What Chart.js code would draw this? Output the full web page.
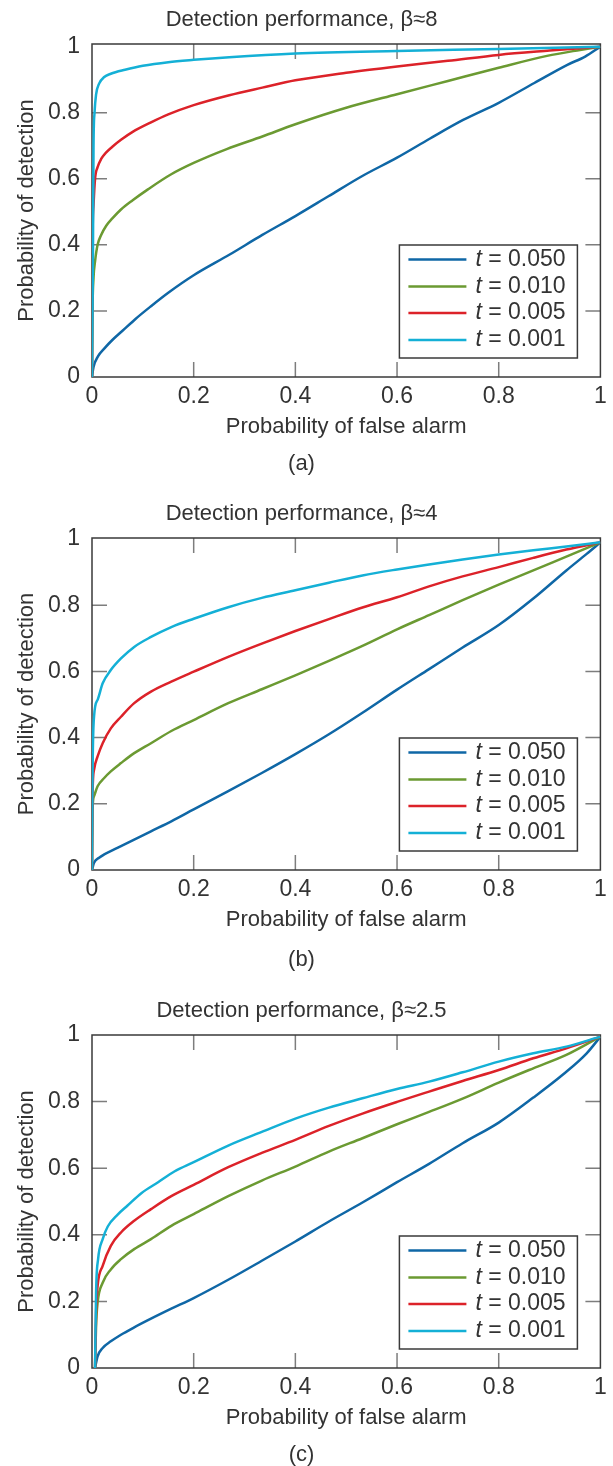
<!DOCTYPE html>
<html>
<head>
<meta charset="utf-8">
<script src="https://cdn.jsdelivr.net/npm/chart.js@4.4.1/dist/chart.umd.min.js"></script>
<style>
  html, body { margin: 0; padding: 0; background: #fff; width: 613px; height: 1466px; overflow: hidden; }
  canvas { position: absolute; left: 0; display: block; }
</style>
</head>
<body>
<canvas id="chartA" width="613" height="490" style="top:0px"></canvas>
<canvas id="chartB" width="613" height="490" style="top:490px"></canvas>
<canvas id="chartC" width="613" height="486" style="top:980px"></canvas>
<script>
// ---------- data ----------
const xTickValues = [0, 0.2, 0.4, 0.6, 0.8, 1];
const yTickValues = [0, 0.2, 0.4, 0.6, 0.8, 1];
const thresholds = ['0.050', '0.010', '0.005', '0.001'];
const chartTitles = ['Detection performance, \u03B2\u22488', 'Detection performance, \u03B2\u22484', 'Detection performance, \u03B2\u22482.5'];
const captions = ['(a)', '(b)', '(c)'];
const xAxisTitle = 'Probability of false alarm';
const yAxisTitle = 'Probability of detection';

// Chart (a), beta ~ 8
const a050_pfa = [0, 0.003, 0.012, 0.024, 0.04, 0.06, 0.085, 0.115, 0.15, 0.2, 0.27, 0.335, 0.4, 0.465, 0.53, 0.6, 0.665, 0.73, 0.8, 0.87, 0.935, 0.97, 1];
const a050_pd  = [0, 0.03, 0.063, 0.086, 0.112, 0.14, 0.175, 0.213, 0.255, 0.308, 0.37, 0.43, 0.487, 0.547, 0.607, 0.664, 0.722, 0.778, 0.83, 0.89, 0.945, 0.97, 1];
const a010_pfa = [0, 0.001, 0.003, 0.006, 0.011, 0.018, 0.028, 0.04, 0.057, 0.08, 0.11, 0.155, 0.2, 0.265, 0.335, 0.4, 0.5, 0.6, 0.7, 0.8, 0.895, 0.96, 1];
const a010_pd  = [0, 0.2, 0.3, 0.35, 0.4, 0.43, 0.458, 0.48, 0.507, 0.535, 0.568, 0.613, 0.648, 0.69, 0.728, 0.765, 0.815, 0.856, 0.896, 0.936, 0.972, 0.99, 1];
const a005_pfa = [0, 0.001, 0.003, 0.006, 0.011, 0.018, 0.028, 0.04, 0.057, 0.08, 0.115, 0.15, 0.2, 0.27, 0.335, 0.4, 0.5, 0.6, 0.7, 0.8, 0.9, 1];
const a005_pd  = [0, 0.4, 0.52, 0.6, 0.635, 0.66, 0.68, 0.697, 0.718, 0.742, 0.77, 0.795, 0.823, 0.853, 0.876, 0.898, 0.921, 0.94, 0.957, 0.975, 0.988, 1];
const a001_pfa = [0, 0.002, 0.003, 0.005, 0.008, 0.014, 0.024, 0.037, 0.065, 0.1, 0.15, 0.2, 0.27, 0.4, 0.6, 0.8, 1];
const a001_pd  = [0, 0.4, 0.7, 0.8, 0.855, 0.888, 0.908, 0.918, 0.93, 0.942, 0.953, 0.96, 0.968, 0.979, 0.987, 0.993, 1];

// Chart (b), beta ~ 4
const b050_pfa = [0, 0.004, 0.014, 0.024, 0.05, 0.083, 0.116, 0.156, 0.2, 0.268, 0.334, 0.4, 0.466, 0.532, 0.6, 0.663, 0.729, 0.8, 0.868, 0.933, 0.973, 1];
const b050_pd  = [0, 0.022, 0.037, 0.047, 0.067, 0.092, 0.117, 0.147, 0.183, 0.238, 0.293, 0.35, 0.41, 0.475, 0.545, 0.607, 0.672, 0.74, 0.82, 0.905, 0.955, 0.99];
const b010_pfa = [0, 0.001, 0.004, 0.011, 0.024, 0.037, 0.057, 0.083, 0.116, 0.156, 0.2, 0.268, 0.334, 0.4, 0.466, 0.532, 0.6, 0.663, 0.729, 0.8, 0.868, 0.933, 1];
const b010_pd  = [0, 0.18, 0.223, 0.253, 0.278, 0.298, 0.323, 0.353, 0.383, 0.42, 0.453, 0.504, 0.546, 0.588, 0.632, 0.677, 0.727, 0.77, 0.815, 0.862, 0.905, 0.947, 0.99];
const b005_pfa = [0, 0.001, 0.004, 0.011, 0.021, 0.037, 0.057, 0.083, 0.116, 0.156, 0.2, 0.268, 0.334, 0.4, 0.466, 0.532, 0.6, 0.663, 0.729, 0.8, 0.868, 0.933, 1];
const b005_pd  = [0, 0.223, 0.303, 0.343, 0.383, 0.428, 0.463, 0.504, 0.539, 0.569, 0.599, 0.644, 0.684, 0.722, 0.758, 0.793, 0.824, 0.857, 0.887, 0.915, 0.943, 0.968, 0.99];
const b001_pfa = [0, 0.001, 0.004, 0.011, 0.021, 0.037, 0.057, 0.083, 0.116, 0.156, 0.2, 0.268, 0.334, 0.4, 0.466, 0.532, 0.6, 0.663, 0.729, 0.8, 0.868, 0.933, 1];
const b001_pd  = [0, 0.273, 0.463, 0.514, 0.564, 0.604, 0.639, 0.674, 0.704, 0.734, 0.759, 0.794, 0.822, 0.845, 0.868, 0.89, 0.908, 0.923, 0.938, 0.953, 0.966, 0.977, 0.99];

// Chart (c), beta ~ 2.5
const c050_pfa = [0.006, 0.011, 0.021, 0.037, 0.057, 0.083, 0.116, 0.156, 0.2, 0.268, 0.334, 0.4, 0.466, 0.532, 0.6, 0.663, 0.729, 0.8, 0.868, 0.927, 0.973, 1];
const c050_pd  = [0, 0.035, 0.06, 0.08, 0.1, 0.122, 0.148, 0.178, 0.21, 0.265, 0.322, 0.38, 0.44, 0.497, 0.558, 0.613, 0.675, 0.737, 0.812, 0.882, 0.945, 0.995];
const c010_pfa = [0.006, 0.008, 0.011, 0.021, 0.037, 0.057, 0.083, 0.116, 0.156, 0.2, 0.268, 0.334, 0.4, 0.466, 0.532, 0.6, 0.663, 0.729, 0.8, 0.868, 0.933, 1];
const c010_pd  = [0, 0.126, 0.196, 0.256, 0.296, 0.327, 0.357, 0.387, 0.427, 0.462, 0.516, 0.563, 0.605, 0.65, 0.69, 0.732, 0.769, 0.809, 0.857, 0.9, 0.94, 0.995];
const c005_pfa = [0.006, 0.008, 0.011, 0.021, 0.037, 0.057, 0.083, 0.116, 0.156, 0.2, 0.268, 0.334, 0.4, 0.466, 0.532, 0.6, 0.663, 0.729, 0.8, 0.868, 0.933, 1];
const c005_pd  = [0, 0.166, 0.246, 0.307, 0.367, 0.407, 0.442, 0.477, 0.516, 0.55, 0.603, 0.646, 0.685, 0.727, 0.764, 0.799, 0.83, 0.862, 0.895, 0.93, 0.96, 0.995];
const c001_pfa = [0.006, 0.008, 0.012, 0.021, 0.031, 0.05, 0.07, 0.097, 0.13, 0.162, 0.2, 0.268, 0.334, 0.4, 0.466, 0.532, 0.6, 0.663, 0.729, 0.8, 0.868, 0.933, 1];
const c001_pd  = [0, 0.226, 0.327, 0.387, 0.425, 0.46, 0.488, 0.525, 0.558, 0.59, 0.618, 0.668, 0.709, 0.749, 0.782, 0.81, 0.838, 0.86, 0.888, 0.92, 0.945, 0.965, 0.995];

// ---------- styles ----------
const seriesColors = ['#0f67a6', '#6b9a32', '#dc2229', '#14b0d6'];
const FONT = 'Liberation Sans';
const TEXT = '#333333';
const TITLE_FS = 22, TICK_FS = 23, LEGEND_FS = 23;
Chart.defaults.font.family = FONT;
Chart.defaults.color = TEXT;

function pts(xs, ys) { return xs.map((x, i) => ({ x: x, y: ys[i] })); }

const framePlugin = {
  id: 'frameTicks',
  beforeDatasetsDraw(chart) {
    const { ctx, chartArea: a, scales: { x, y } } = chart;
    const L = 15;
    ctx.save();
    ctx.strokeStyle = '#7d7d7d';
    ctx.lineWidth = 1.5;
    ctx.beginPath();
    x.ticks.forEach(t => {
      if (t.value <= 0 || t.value >= 1) return;
      const p = x.getPixelForValue(t.value);
      ctx.moveTo(p, a.bottom); ctx.lineTo(p, a.bottom - L);
      ctx.moveTo(p, a.top); ctx.lineTo(p, a.top + L);
    });
    y.ticks.forEach(t => {
      if (t.value <= 0 || t.value >= 1) return;
      const p = y.getPixelForValue(t.value);
      ctx.moveTo(a.left, p); ctx.lineTo(a.left + L, p);
      ctx.moveTo(a.right, p); ctx.lineTo(a.right - L, p);
    });
    ctx.stroke();
    ctx.strokeStyle = '#3a3a3a';
    ctx.lineWidth = 1.5;
    ctx.strokeRect(a.left, a.top, a.right - a.left, a.bottom - a.top);
    ctx.restore();
  }
};

const boxLegendPlugin = {
  id: 'boxLegend',
  afterDatasetsDraw(chart) {
    const { ctx, chartArea: a } = chart;
    const W = 178, H = 113;
    const right = a.right - 23, bottom = a.bottom - 19;
    const left = right - W, top = bottom - H;
    ctx.save();
    ctx.fillStyle = '#ffffff';
    ctx.fillRect(left, top, W, H);
    ctx.strokeStyle = '#3a3a3a';
    ctx.lineWidth = 1.5;
    ctx.strokeRect(left, top, W, H);
    const rows = [14.5, 41.5, 68, 95];
    chart.data.datasets.forEach((ds, i) => {
      const cy = top + rows[i];
      ctx.strokeStyle = ds.borderColor;
      ctx.lineWidth = 2.5;
      ctx.beginPath();
      ctx.moveTo(left + 9, cy); ctx.lineTo(left + 67, cy);
      ctx.stroke();
      ctx.fillStyle = TEXT;
      ctx.textBaseline = 'middle';
      ctx.textAlign = 'left';
      ctx.font = 'italic ' + LEGEND_FS + 'px "' + FONT + '"';
      const tx = left + 76;
      ctx.fillText('t', tx, cy);
      const w = ctx.measureText('t').width;
      ctx.font = LEGEND_FS + 'px "' + FONT + '"';
      ctx.fillText(' = ' + ds.thresholdText, tx + w, cy);
    });
    ctx.restore();
  }
};

function fmtTick(v) { return String(Math.round(v * 10) / 10); }

function makeChart(id, idx, series, yMax, lay) {
  const HALF = TITLE_FS * 1.2 / 2, CAPHALF = TITLE_FS / 2, TICKHALF = TICK_FS * 1.2 / 2;
  const xH = lay.xTitleC - lay.plotBottom + HALF;
  const titlePadTop = lay.titleC - HALF;
  const titlePadBottom = lay.plotTop - lay.titleC - HALF;
  const capPadBottom = lay.canvasH - lay.capC - CAPHALF;
  const capPadTop = lay.capC - CAPHALF - (lay.plotBottom + xH);
  return new Chart(document.getElementById(id), {
    type: 'line',
    data: {
      datasets: series.map((s, i) => ({
        label: 't = ' + thresholds[i],
        thresholdText: thresholds[i],
        data: pts(s[0], s[1]),
        borderColor: seriesColors[i],
        backgroundColor: seriesColors[i],
        borderWidth: 2.5,
        pointRadius: 0,
        fill: false,
        cubicInterpolationMode: 'monotone',
        order: 3 - i
      }))
    },
    options: {
      responsive: false,
      animation: false,
      devicePixelRatio: 1,
      layout: { padding: { left: 0, right: 10, top: 0, bottom: 0 } },
      plugins: {
        legend: { display: false },
        tooltip: { enabled: false },
        title: {
          display: true, text: chartTitles[idx], color: TEXT,
          font: { family: FONT, size: TITLE_FS, weight: 'normal', lineHeight: 1.2 },
          padding: { top: titlePadTop, bottom: titlePadBottom }
        },
        subtitle: {
          display: true, position: 'bottom', text: captions[idx], color: TEXT,
          font: { family: FONT, size: TITLE_FS, weight: 'normal', lineHeight: 1.0 },
          padding: { top: capPadTop, bottom: capPadBottom }
        }
      },
      scales: {
        x: {
          type: 'linear', min: 0, max: 1,
          afterBuildTicks: s => { s.ticks = xTickValues.map(v => ({ value: v })); },
          afterFit: s => { s.height = xH; },
          grid: { display: false, drawTicks: false },
          border: { display: false },
          ticks: { color: TEXT, font: { family: FONT, size: TICK_FS }, padding: lay.tickC - lay.plotBottom - TICKHALF, maxRotation: 0, autoSkip: false, callback: fmtTick },
          title: { display: true, text: xAxisTitle, color: TEXT, font: { family: FONT, size: TITLE_FS, lineHeight: 1.2 }, padding: { top: 0, bottom: 0 } }
        },
        y: {
          type: 'linear', min: 0, max: yMax,
          afterBuildTicks: s => { s.ticks = yTickValues.map(v => ({ value: v })); },
          afterFit: s => { s.width = 92; },
          grid: { display: false, drawTicks: false },
          border: { display: false },
          ticks: { color: TEXT, font: { family: FONT, size: TICK_FS }, padding: 12, autoSkip: false, callback: fmtTick },
          title: { display: true, text: yAxisTitle, color: TEXT, font: { family: FONT, size: TITLE_FS, lineHeight: 1.2 }, padding: { top: 27 - HALF, bottom: 0 } }
        }
      }
    },
    plugins: [framePlugin, boxLegendPlugin]
  });
}

makeChart('chartA', 0, [[a050_pfa, a050_pd], [a010_pfa, a010_pd], [a005_pfa, a005_pd], [a001_pfa, a001_pd]], 1.008,
  { canvasH: 490, titleC: 20, plotTop: 44, plotBottom: 377, tickC: 397, xTitleC: 427, capC: 464 });
makeChart('chartB', 1, [[b050_pfa, b050_pd], [b010_pfa, b010_pd], [b005_pfa, b005_pd], [b001_pfa, b001_pd]], 1.003,
  { canvasH: 490, titleC: 24, plotTop: 48, plotBottom: 380, tickC: 400, xTitleC: 430, capC: 470 });
makeChart('chartC', 2, [[c050_pfa, c050_pd], [c010_pfa, c010_pd], [c005_pfa, c005_pd], [c001_pfa, c001_pd]], 1.0,
  { canvasH: 486, titleC: 31, plotTop: 55, plotBottom: 388, tickC: 408, xTitleC: 438, capC: 475 });
</script>
</body>
</html>
